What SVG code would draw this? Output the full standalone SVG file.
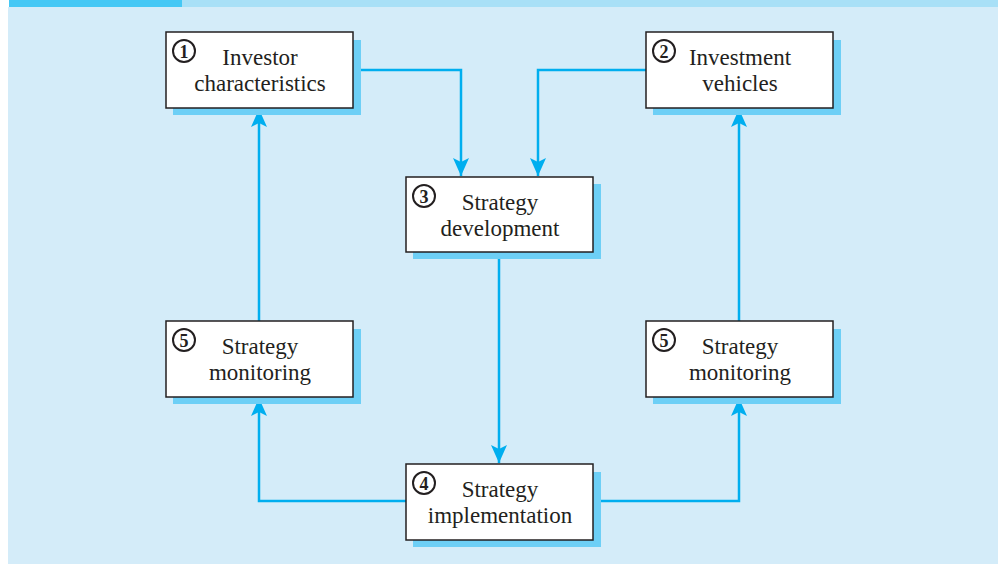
<svg xmlns="http://www.w3.org/2000/svg" width="998" height="564" viewBox="0 0 998 564">
<defs>
<style>
.shadow{fill:#6dcff6}
.box{fill:#fff;stroke:#231f20;stroke-width:1.5}
.t{font-family:"Liberation Serif","Times New Roman",serif;font-size:23px;fill:#231f20;text-anchor:middle}
.nc{fill:#fff;stroke:#231f20;stroke-width:2}
.n{font-family:"Liberation Serif","Times New Roman",serif;font-size:18px;font-weight:bold;fill:#231f20;text-anchor:middle}
.c{fill:none;stroke:#00aeef;stroke-width:2.5}
</style>
<marker id="a" markerWidth="16" markerHeight="20" refX="18" refY="10" orient="auto" markerUnits="userSpaceOnUse">
<path d="M0,2 L18,10 L0,18 L4,10 z" fill="#00aeef"/>
</marker>
</defs>
<rect x="0" y="0" width="998" height="564" fill="#fff"/>
<rect x="8" y="7" width="990" height="557" fill="#d4ecf9"/>
<rect x="9" y="0" width="173" height="7" fill="#45c8f5"/>
<rect x="182" y="0" width="816" height="7" fill="#a8e0f7"/>
<g id="connectors">
<path class="c" d="M353,70 H461 V176" marker-end="url(#a)"/>
<path class="c" d="M646,70 H538 V176" marker-end="url(#a)"/>
<path class="c" d="M499,252 V463" marker-end="url(#a)"/>
<path class="c" d="M406,501 H259 V398" marker-end="url(#a)"/>
<path class="c" d="M593,501 H739 V398" marker-end="url(#a)"/>
<path class="c" d="M259,321 V109" marker-end="url(#a)"/>
<path class="c" d="M739,321 V109" marker-end="url(#a)"/>
</g>
<g id="node1">
<rect class="shadow" x="173" y="40" width="188" height="75"/>
<rect class="box" x="166" y="32" width="187" height="76"/>
<circle class="nc" cx="184" cy="51" r="11"/>
<text class="n" x="184" y="57.5">1</text>
<text class="t" x="260" y="65">Investor</text>
<text class="t" x="260" y="91">characteristics</text>
</g>
<g id="node2">
<rect class="shadow" x="653" y="40" width="188" height="75"/>
<rect class="box" x="646" y="32" width="187" height="76"/>
<circle class="nc" cx="664" cy="51" r="11"/>
<text class="n" x="664" y="57.5">2</text>
<text class="t" x="740" y="65">Investment</text>
<text class="t" x="740" y="91">vehicles</text>
</g>
<g id="node3">
<rect class="shadow" x="413" y="184" width="188" height="75"/>
<rect class="box" x="406" y="177" width="187" height="75"/>
<circle class="nc" cx="424" cy="196" r="11"/>
<text class="n" x="424" y="202.5">3</text>
<text class="t" x="500" y="210">Strategy</text>
<text class="t" x="500" y="236">development</text>
</g>
<g id="node4">
<rect class="shadow" x="413" y="472" width="188" height="75"/>
<rect class="box" x="406" y="464" width="187" height="76"/>
<circle class="nc" cx="424" cy="483" r="11"/>
<text class="n" x="424" y="489.5">4</text>
<text class="t" x="500" y="497">Strategy</text>
<text class="t" x="500" y="523">implementation</text>
</g>
<g id="node5a">
<rect class="shadow" x="173" y="329" width="188" height="75"/>
<rect class="box" x="166" y="321" width="187" height="76"/>
<circle class="nc" cx="184" cy="340" r="11"/>
<text class="n" x="184" y="346.5">5</text>
<text class="t" x="260" y="354">Strategy</text>
<text class="t" x="260" y="380">monitoring</text>
</g>
<g id="node5b">
<rect class="shadow" x="653" y="329" width="188" height="75"/>
<rect class="box" x="646" y="321" width="187" height="76"/>
<circle class="nc" cx="664" cy="340" r="11"/>
<text class="n" x="664" y="346.5">5</text>
<text class="t" x="740" y="354">Strategy</text>
<text class="t" x="740" y="380">monitoring</text>
</g>
</svg>
